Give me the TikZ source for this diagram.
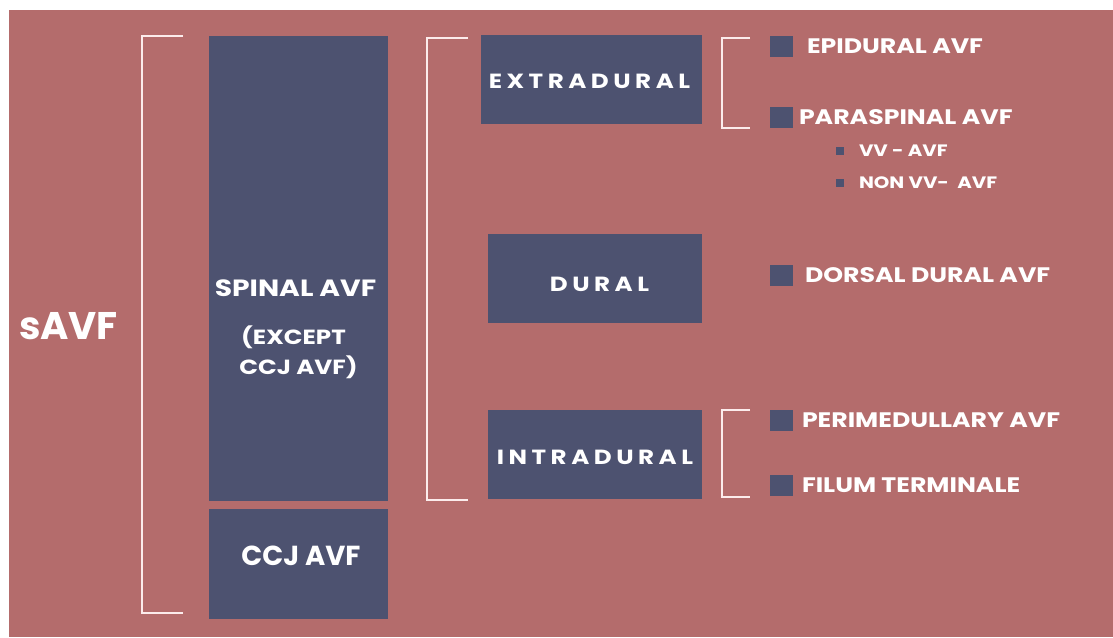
\documentclass[tikz,border=0pt]{standalone}
\usepackage{fontspec}
\setmainfont{Poppins}[FakeStretch=1.2]
\usepackage{tikz}
\usetikzlibrary{positioning}
\definecolor{rose}{RGB}{180,108,108}
\definecolor{slate}{RGB}{77,82,112}
\definecolor{pale}{RGB}{252,236,236}
\newfontfamily\plain{Poppins}
\newfontfamily\spaced[LetterSpace=22, FakeStretch=1.2]{Poppins}

\begin{document}
\begin{tikzpicture}[x = 1pt, y = -1pt, line width = 2pt,
  box/.style = {fill = slate, inner sep = 0pt},
  sq/.style = {fill = slate, inner sep = 0pt, minimum width = 23pt, minimum height = 21pt},
  txt/.style = {text = white, inner sep = 0pt, font = \bfseries\fontsize{21}{23}\selectfont},
  head/.style = {txt, anchor = base, font = \spaced\bfseries\fontsize{20.5}{22}\selectfont},
  brk/.style = {draw = pale}]
\useasboundingbox (0, 0) rectangle (1113, 637);
\fill[white] (0, 0) rectangle (1113, 637);
\fill[rose] (9, 10) rectangle (1113, 637);
% brackets
\foreach \xa/\xb/\ya/\yb in {183/142/36/613, 468/427/38/500, 750/722/38/128, 750/722/410/497}
  {\draw[brk] (\xa, \ya) -| (\xb, \yb) -- (\xa, \yb);}
% left column
\node[txt, anchor = base west, font = \plain\bfseries\fontsize{38.5}{40}\selectfont] (savf) at (18, 339) {sAVF};
\node[box, minimum width = 179pt, minimum height = 465pt] (spinal) at (298.5, 268.5) {};
\node[box, minimum width = 179pt, minimum height = 110pt] (ccj) at (298.5, 564) {};
\node[txt, anchor = base, font = \bfseries\fontsize{23.5}{25}\selectfont] (spinaltxt) at (295.5, 296) {SPINAL AVF};
\node[txt, anchor = base, font = \bfseries\fontsize{20.5}{22}\selectfont] (except) at (293.5, 344) {(EXCEPT};
\node[txt, anchor = base, font = \bfseries\fontsize{20.5}{22}\selectfont] (exceptb) at (298.5, 374) {CCJ AVF)};
\node[txt, anchor = base, font = \plain\bfseries\fontsize{27.5}{29}\selectfont] (ccjtxt) at (301, 565) {CCJ AVF};
% middle column
\node[box, minimum width = 221pt, minimum height = 89pt] (extra) at (591.5, 79.5) {};
\node[box, minimum width = 214pt, minimum height = 89pt] (dural) at (595, 278.5) {};
\node[box, minimum width = 214pt, minimum height = 89pt] (intra) at (595, 454.5) {};
\node[head] (extratxt) at (589.5, 88) {EXTRADURAL};
\node[head] (duraltxt) at (599.5, 291) {DURAL};
\node[head] (intratxt) at (595, 464) {INTRADURAL};
% right column
\foreach \y/\gap/\t/\n in {46/12/EPIDURAL AVF/epi, 117.5/4/PARASPINAL AVF/para, 275.5/10/DORSAL DURAL AVF/dorsal,
  420.5/7/PERIMEDULLARY AVF/peri, 485.5/7/FILUM TERMINALE/filum}
  {\node[sq] (\n) at (781.5, \y) {};
   \node[txt, right = \gap pt of \n] (\n txt) {\t};}
\foreach \y/\t/\n in {151/VV - AVF/vv, 183/NON VV-\ \ AVF/nonvv}
  {\node[sq, minimum width = 8pt, minimum height = 8pt] (\n) at (840, \y) {};
   \node[txt, right = 13pt of \n, font = \bfseries\fontsize{16.5}{18}\selectfont] (\n txt) {\t};}
\end{tikzpicture}
\end{document}
